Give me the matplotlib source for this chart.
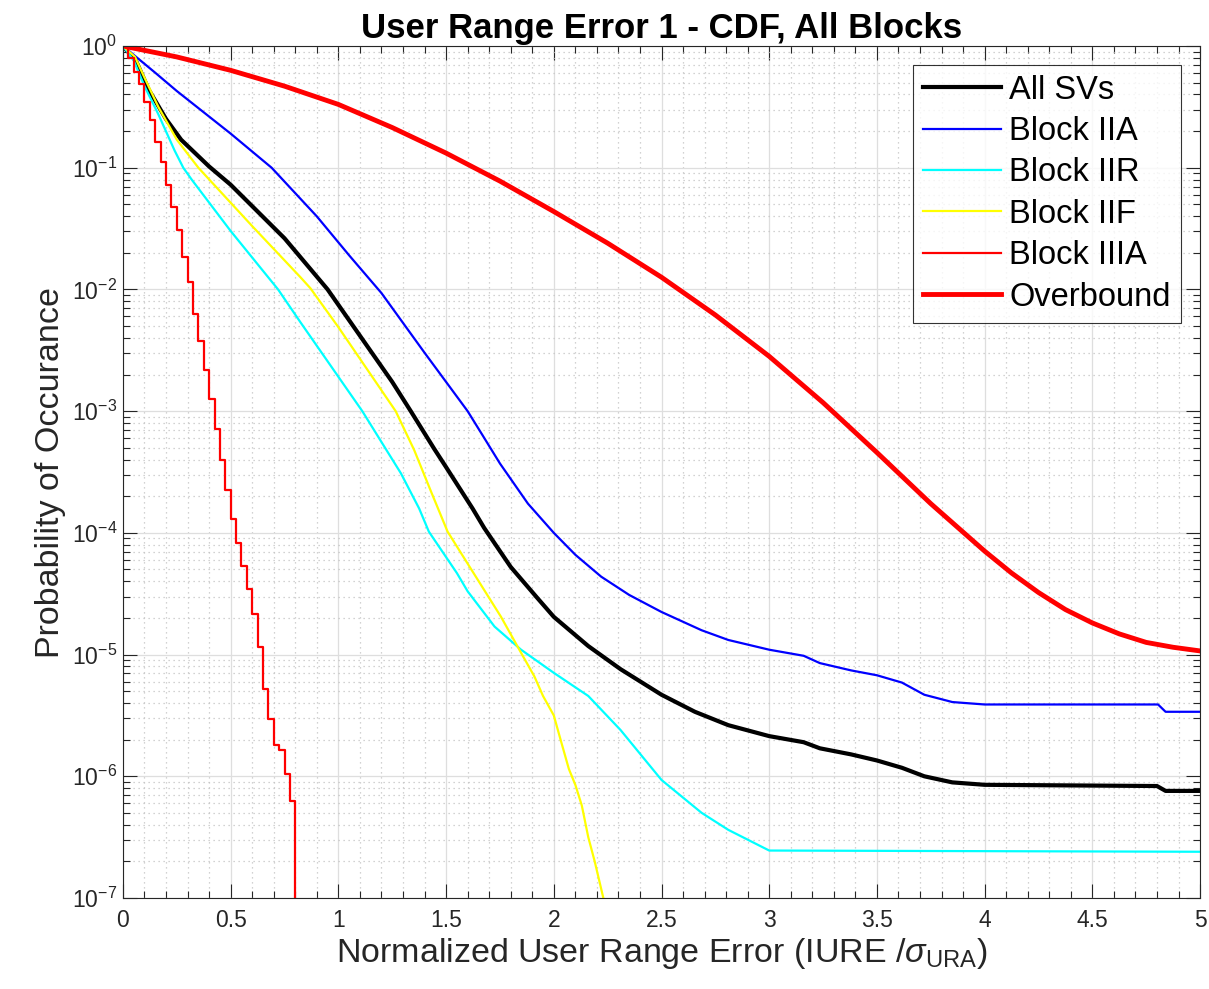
import numpy as np
import matplotlib.pyplot as plt
from matplotlib.ticker import LogLocator, MultipleLocator, FixedLocator, FixedFormatter, NullFormatter

plt.rcParams['font.family'] = ['Liberation Sans', 'DejaVu Sans']
plt.rcParams['axes.unicode_minus'] = False
plt.rcParams['mathtext.fontset'] = 'custom'
plt.rcParams['mathtext.rm'] = 'Liberation Sans'
plt.rcParams['mathtext.it'] = 'Liberation Sans:italic'

# values, as log10(probability)
all_x = [0, 0.06, 0.12, 0.2, 0.27, 0.4, 0.5, 0.75, 0.95, 1.1, 1.25, 1.336, 1.445, 1.5,
         1.623, 1.677, 1.8, 1.926, 2.0, 2.16, 2.31, 2.5, 2.655, 2.81, 3.0, 3.16, 3.235,
         3.38, 3.5, 3.616, 3.72, 3.85, 4.0, 4.8, 4.84, 5.0]
all_log = [0, -0.12, -0.36, -0.6, -0.77, -0.99, -1.14, -1.58, -2.0, -2.38, -2.76, -3.0,
           -3.31, -3.46, -3.8, -3.96, -4.28, -4.54, -4.69, -4.93, -5.12, -5.33, -5.47,
           -5.58, -5.67, -5.72, -5.77, -5.82, -5.87, -5.93, -6.0, -6.05, -6.07, -6.08,
           -6.12, -6.12]

iia_x = [0, 0.15, 0.25, 0.5, 0.69, 0.9, 1.05, 1.2, 1.4, 1.6, 1.67, 1.75, 1.88, 2.0, 2.1,
         2.22, 2.35, 2.5, 2.686, 2.81, 3.0, 3.16, 3.235, 3.38, 3.5, 3.616, 3.72, 3.85,
         4.0, 4.805, 4.84, 5.0]
iia_log = [0, -0.22, -0.37, -0.72, -1.0, -1.4, -1.72, -2.03, -2.52, -3.0, -3.2, -3.43,
           -3.76, -4.0, -4.18, -4.36, -4.51, -4.65, -4.8, -4.88, -4.96, -5.01, -5.07,
           -5.13, -5.17, -5.23, -5.33, -5.39, -5.41, -5.41, -5.47, -5.47]

iir_x = [0, 0.05, 0.1, 0.164, 0.24, 0.28, 0.32, 0.5, 0.72, 0.824, 1.111, 1.29, 1.375,
         1.42, 1.55, 1.6, 1.725, 1.848, 2.0, 2.16, 2.31, 2.5, 2.686, 2.81, 3.0, 5.0]
iir_log = [0, -0.12, -0.33, -0.56, -0.86, -1.0, -1.1, -1.52, -2.0, -2.27, -3.0, -3.51,
           -3.8, -3.99, -4.33, -4.48, -4.77, -4.96, -5.15, -5.34, -5.62, -6.03, -6.3,
           -6.44, -6.61, -6.62]

iif_x = [0, 0.056, 0.1, 0.164, 0.25, 0.35, 0.6, 0.824, 0.87, 1.0, 1.266, 1.352, 1.43,
         1.507, 1.677, 1.755, 1.84, 1.91, 1.95, 2.0, 2.03, 2.07, 2.1, 2.13, 2.16, 2.19,
         2.23, 2.24]
iif_log = [0, -0.09, -0.26, -0.5, -0.77, -1.0, -1.48, -1.9, -1.99, -2.31, -3.0, -3.32,
           -3.66, -3.99, -4.47, -4.69, -4.96, -5.18, -5.34, -5.5, -5.69, -5.94, -6.07,
           -6.24, -6.5, -6.7, -7.0, -7.3]

# Block IIIA stair values, one per 0.025 bin
iiia_x = [0, 0.025, 0.05, 0.075, 0.1, 0.125, 0.15, 0.175, 0.2, 0.225, 0.25, 0.275, 0.3,
          0.325, 0.35, 0.375, 0.4, 0.425, 0.45, 0.475, 0.5, 0.525, 0.55, 0.575, 0.6,
          0.625, 0.65, 0.675, 0.7, 0.725, 0.75, 0.775, 0.8]
iiia_log = [0, -0.1, -0.21, -0.31, -0.46, -0.61, -0.79, -0.95, -1.14, -1.32, -1.51, -1.73,
            -1.94, -2.2, -2.42, -2.66, -2.9, -3.15, -3.4, -3.65, -3.89, -4.08, -4.27, -4.46,
            -4.67, -4.94, -5.28, -5.53, -5.74, -5.78, -5.98, -6.2, -9.0]

over_x = [0, 0.25, 0.5, 0.75, 1.0, 1.25, 1.5, 1.75, 2.0, 2.25, 2.5, 2.75, 3.0, 3.25, 3.5,
          3.75, 4.0, 4.125, 4.25, 4.375, 4.5, 4.625, 4.75, 4.875, 5.0]
over_log = [0, -0.09, -0.2, -0.33, -0.48, -0.67, -0.88, -1.11, -1.36, -1.62, -1.9, -2.21,
            -2.55, -2.93, -3.34, -3.76, -4.15, -4.33, -4.49, -4.63, -4.74, -4.83, -4.9,
            -4.94, -4.97]

labels = ['All SVs', 'Block IIA', 'Block IIR', 'Block IIF', 'Block IIIA', 'Overbound']
xticks = [0, 0.5, 1, 1.5, 2, 2.5, 3, 3.5, 4, 4.5, 5]

fig = plt.figure(figsize=(12.09, 9.89), dpi=100)
ax = fig.add_axes([0.1017, 0.092, 0.8909, 0.8615])

ax.plot(all_x, 10.0 ** np.array(all_log), color='k', lw=3.0, label=labels[0])
ax.plot(iia_x, 10.0 ** np.array(iia_log), color='#0000ff', lw=1.6, label=labels[1])
ax.plot(iir_x, 10.0 ** np.array(iir_log), color='#00ffff', lw=1.6, label=labels[2])
ax.plot(iif_x, 10.0 ** np.array(iif_log), color='#ffff00', lw=1.6, label=labels[3])
ax.plot(iiia_x, 10.0 ** np.array(iiia_log), color='#ff0000', lw=1.6,
        drawstyle='steps-post', label=labels[4])
ax.plot(over_x, 10.0 ** np.array(over_log), color='#ff0000', lw=3.5, label=labels[5])

ax.set_yscale('log')
ax.set_xlim(0, 5)
ax.set_ylim(1e-7, 1)
ax.xaxis.set_major_locator(FixedLocator(xticks))
ax.xaxis.set_major_formatter(FixedFormatter([f'{v:g}' for v in xticks]))
ax.xaxis.set_minor_locator(MultipleLocator(0.1))
ax.xaxis.set_minor_formatter(NullFormatter())
ax.yaxis.set_major_locator(LogLocator(base=10, numticks=12))
ax.yaxis.set_minor_locator(LogLocator(base=10, subs=np.arange(2, 10), numticks=12))
ax.yaxis.set_minor_formatter(NullFormatter())
ax.xaxis.get_offset_text().set_visible(False)
ax.yaxis.get_offset_text().set_visible(False)

ax.set_axisbelow(True)
ax.grid(which='major', color='#dedede', lw=0.9)
ax.grid(which='minor', color='#c4c4c4', ls=(0, (1, 3)), lw=0.9)
ax.tick_params(which='both', direction='in', top=True, right=True,
               color='#262626', labelcolor='#262626', width=0.8)
ax.tick_params(which='major', length=10, labelsize=16.5)
ax.tick_params(which='minor', length=5)
ax.tick_params(axis='x', pad=8)
ax.tick_params(axis='y', pad=4)
for s in ax.spines.values():
    s.set_color('#262626')
    s.set_linewidth(0.8)

ax.set_title('User Range Error 1 - CDF, All Blocks', fontsize=25, fontweight='bold', pad=6)
ax.set_xlabel(r'Normalized User Range Error (IURE /$\sigma_{\mathrm{URA}}$)',
              fontsize=24.5, color='#262626', labelpad=3)
ax.set_ylabel('Probability of Occurance', fontsize=24.5, color='#262626', labelpad=4)

leg = ax.legend(loc='upper right', bbox_to_anchor=(0.982, 0.978), borderaxespad=0,
                fontsize=23.5, frameon=True, fancybox=False, edgecolor='k',
                handlelength=2.4, handletextpad=0.25, labelspacing=0.32, borderpad=0.3)
leg.get_frame().set_linewidth(0.8)

fig.savefig('out.png', dpi=100)
